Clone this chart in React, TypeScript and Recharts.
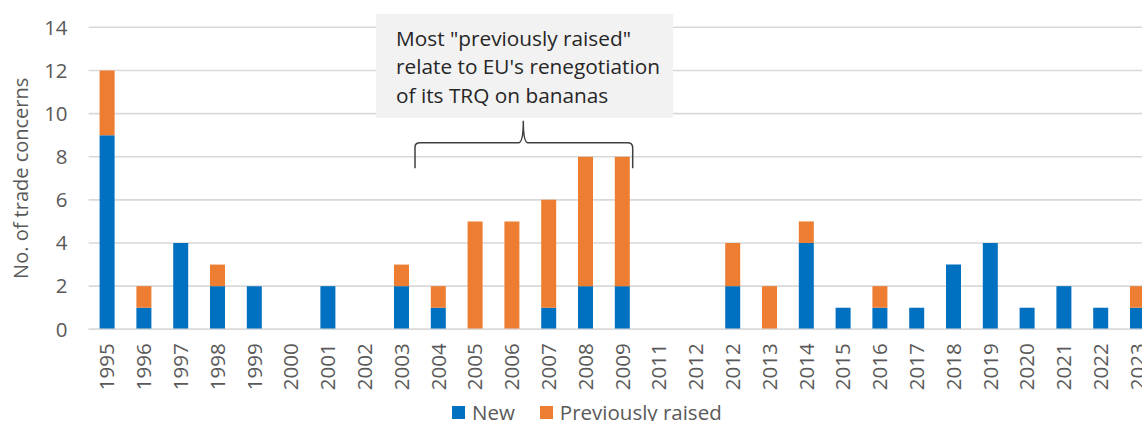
import React from "react";
import { BarChart, Bar, XAxis, YAxis, CartesianGrid, Legend } from "recharts";

const years = [
  "1995", "1996", "1997", "1998", "1999", "2000", "2001", "2002", "2003", "2004",
  "2005", "2006", "2007", "2008", "2009", "2011", "2012", "2012", "2013", "2014",
  "2015", "2016", "2017", "2018", "2019", "2020", "2021", "2022", "2023",
];
const newConcerns = [9, 1, 4, 2, 2, 0, 2, 0, 2, 1, 0, 0, 1, 2, 2, 0, 0, 2, 0, 4, 1, 1, 1, 3, 4, 1, 2, 1, 1];
const previouslyRaised = [3, 1, 0, 1, 0, 0, 0, 0, 1, 1, 5, 5, 5, 6, 6, 0, 0, 2, 2, 1, 0, 1, 0, 0, 0, 0, 0, 0, 1];
const yTicks = [0, 2, 4, 6, 8, 10, 12, 14];
const seriesNames = { newC: "New", prev: "Previously raised" };
const annotationLines = ['Most "previously raised"', "relate to EU's renegotiation", "of its TRQ on bananas"];
const yLabel = "No. of trade concerns";

const BLUE = "#0070C0";
const ORANGE = "#ED7D31";
const GREY = "#595959";
const FONT = "'Open Sans', 'Noto Sans', sans-serif";

const data = years.map((y, i) => ({ year: y, newC: newConcerns[i], prev: previouslyRaised[i] }));

const XTick = (props: any) => {
  const { x, y, payload } = props;
  return (
    <text
      x={0}
      y={0}
      transform={`translate(${x},${y}) rotate(-90)`}
      textAnchor="end"
      dy="0.36em"
      fill={GREY}
      fontSize={20.5}
      fontFamily={FONT}
    >
      {payload.value}
    </text>
  );
};

const YLabel = (props: any) => {
  const vb = props.viewBox || { x: 0, y: 0, width: 0, height: 0 };
  const cx = 20.5;
  const cy = vb.y + vb.height / 2;
  return (
    <text
      x={cx}
      y={cy}
      transform={`rotate(-90, ${cx}, ${cy})`}
      textAnchor="middle"
      dy="0.36em"
      fill={GREY}
      fontSize={20}
      fontFamily={FONT}
    >
      {yLabel}
    </text>
  );
};

const LegendContent = () => (
  <div
    style={{
      display: "flex",
      alignItems: "center",
      fontFamily: FONT,
      fontSize: 20.5,
      lineHeight: "20px",
      color: GREY,
      whiteSpace: "nowrap",
    }}
  >
    <span style={{ display: "inline-block", width: 13, height: 13, background: BLUE, marginRight: 7 }} />
    <span style={{ marginRight: 25 }}>{seriesNames.newC}</span>
    <span style={{ display: "inline-block", width: 13, height: 13, background: ORANGE, marginRight: 7 }} />
    <span>{seriesNames.prev}</span>
  </div>
);

export default function App() {
  return (
    <div
      style={{
        position: "absolute",
        left: 0,
        top: 0,
        width: 1142,
        height: 421,
        overflow: "hidden",
        background: "#fff",
      }}
    >
      <BarChart
        width={1170}
        height={421}
        data={data}
        margin={{ top: 27.3, right: 14.2, bottom: 0, left: 0 }}
        barCategoryGap={0}
      >
        <CartesianGrid vertical={false} stroke="#d9d9d9" strokeWidth={1.6} />
        <XAxis
          dataKey="year"
          interval={0}
          tickLine={false}
          axisLine={{ stroke: "#d9d9d9", strokeWidth: 1.6 }}
          tickSize={0}
          tickMargin={14}
          height={91.7}
          tick={<XTick />}
        />
        <YAxis
          domain={[0, 14]}
          ticks={yTicks}
          width={88.6}
          axisLine={false}
          tickLine={false}
          tickSize={0}
          tickMargin={21}
          tick={{ fill: GREY, fontSize: 20.5, fontFamily: FONT }}
          label={<YLabel />}
        />
        <Legend
          layout="horizontal"
          verticalAlign="middle"
          align="center"
          wrapperStyle={{ position: "absolute", left: 452, top: 402, width: 340, height: 24 }}
          content={<LegendContent />}
        />
        <Bar dataKey="newC" name={seriesNames.newC} stackId="a" fill={BLUE} barSize={15} isAnimationActive={false} />
        <Bar dataKey="prev" name={seriesNames.prev} stackId="a" fill={ORANGE} barSize={15} isAnimationActive={false} />
      </BarChart>

      <div
        style={{
          position: "absolute",
          left: 376,
          top: 14,
          width: 297,
          height: 104,
          background: "#f2f2f2",
          boxSizing: "border-box",
          paddingLeft: 20,
          paddingTop: 9.5,
          fontFamily: FONT,
          fontSize: 20.8,
          lineHeight: "28.5px",
          color: "#262626",
          whiteSpace: "nowrap",
        }}
      >
        {annotationLines.map((l, i) => (
          <div key={i}>{l}</div>
        ))}
      </div>
      <svg
        style={{ position: "absolute", left: 0, top: 0, pointerEvents: "none" }}
        width={1142}
        height={421}
      >
        <path
          d="M415,168.3 L415,147 Q415,142.7 420,142.7 L518.5,142.7 Q523.3,142.7 523.3,120.7 Q523.3,142.7 528,142.7 L627.7,142.7 Q632.7,142.7 632.7,147.7 L632.7,168.3"
          fill="none"
          stroke="#404040"
          strokeWidth={1.5}
        />
      </svg>
    </div>
  );
}
